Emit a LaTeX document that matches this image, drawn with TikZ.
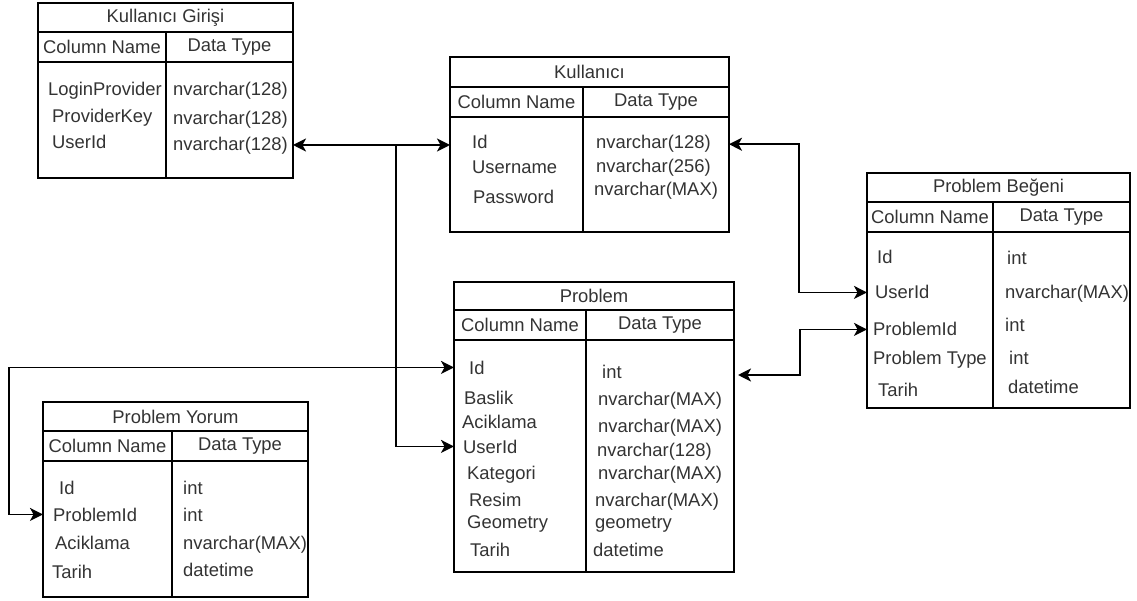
\documentclass[tikz,border=0pt]{standalone}
\usepackage{fontspec}
\setmainfont{Liberation Sans}
\usetikzlibrary{arrows.meta}

\begin{document}
\begin{tikzpicture}[x=1pt,y=-1pt,font=\fontsize{18.4pt}{22pt}\selectfont]
    \tikzset{line/.style={draw,line width=2pt}}
    \tikzset{link/.style={draw,line width=1.8pt,>={Stealth[length=13pt,width=13pt,inset=3.5pt]}}}
    \tikzset{cell/.style={line,inner sep=0pt,outer sep=0pt,anchor=north west,minimum height=30pt,text=black!80}}
    \tikzset{fld/.style={inner sep=0pt,anchor=base west,text=black!80}}

    \useasboundingbox (0,0) rectangle (1137,601);

    % Kullanici Girisi
    \node[cell,minimum width=255pt,minimum height=29pt] (giT) at (38,3) {Kullanıcı Girişi};
    \node[cell,minimum width=128pt] (giC) at (38,32) {Column Name};
    \node[cell,minimum width=127pt] (giD) at (166,32) {Data Type};
    \node[cell,minimum width=128pt,minimum height=116pt] (giris) at (38,62) {};
    \node[cell,minimum width=127pt,minimum height=116pt] (girisR) at (166,62) {};
    \node[fld] (giLog) at (48,96) {LoginProvider};
    \node[fld] (giKey) at (52,123) {ProviderKey};
    \node[fld] (giUid) at (52,149) {UserId};
    \node[fld] (giLogT) at (173,96) {nvarchar(128)};
    \node[fld] (giKeyT) at (173,125) {nvarchar(128)};
    \node[fld] (giUidT) at (173,151) {nvarchar(128)};

    % Kullanici
    \node[cell,minimum width=279pt] (kuT) at (450,57) {Kullanıcı};
    \node[cell,minimum width=133pt] (kuC) at (450,87) {Column Name};
    \node[cell,minimum width=146pt] (kuD) at (583,87) {Data Type};
    \node[cell,minimum width=133pt,minimum height=115pt] (kul) at (450,117) {};
    \node[cell,minimum width=146pt,minimum height=115pt] (kulR) at (583,117) {};
    \node[fld] (kuId) at (472,149) {Id};
    \node[fld] (kuName) at (472,174) {Username};
    \node[fld] (kuPass) at (473,204) {Password};
    \node[fld] (kuIdT) at (596,149) {nvarchar(128)};
    \node[fld] (kuNameT) at (596,173) {nvarchar(256)};
    \node[fld] (kuPassT) at (594,196) {nvarchar(MAX)};

    % Problem Begeni
    \node[cell,minimum width=263pt,minimum height=29pt] (beT) at (867,173) {Problem Beğeni};
    \node[cell,minimum width=126pt] (beC) at (867,202) {Column Name};
    \node[cell,minimum width=137pt] (beD) at (993,202) {Data Type};
    \node[cell,minimum width=126pt,minimum height=176pt] (begeni) at (867,232) {};
    \node[cell,minimum width=137pt,minimum height=176pt] (begeniR) at (993,232) {};
    \node[fld] (beId) at (877,264) {Id};
    \node[fld] (beUid) at (875,299) {UserId};
    \node[fld] (bePid) at (873,336) {ProblemId};
    \node[fld] (beType) at (873,364) {Problem Type};
    \node[fld] (beDate) at (878,396) {Tarih};
    \node[fld] (beIdT) at (1007,265) {int};
    \node[fld] (beUidT) at (1005,299) {nvarchar(MAX)};
    \node[fld] (bePidT) at (1005,332) {int};
    \node[fld] (beTypeT) at (1009,364) {int};
    \node[fld] (beDateT) at (1008,393) {datetime};

    % Problem
    \node[cell,minimum width=280pt,minimum height=28pt] (prT) at (454,282) {Problem};
    \node[cell,minimum width=132pt] (prC) at (454,310) {Column Name};
    \node[cell,minimum width=148pt] (prD) at (586,310) {Data Type};
    \node[cell,minimum width=132pt,minimum height=232pt] (prob) at (454,340) {};
    \node[cell,minimum width=148pt,minimum height=232pt] (probR) at (586,340) {};
    \node[fld] (prId) at (469,374) {Id};
    \node[fld] (prTitle) at (464,404) {Baslik};
    \node[fld] (prDesc) at (462,428) {Aciklama};
    \node[fld] (prUid) at (463,453) {UserId};
    \node[fld] (prCat) at (467,479) {Kategori};
    \node[fld] (prImg) at (469,506) {Resim};
    \node[fld] (prGeo) at (467,528) {Geometry};
    \node[fld] (prDate) at (470,556) {Tarih};
    \node[fld] (prIdT) at (602,378) {int};
    \node[fld] (prTitleT) at (598,405) {nvarchar(MAX)};
    \node[fld] (prDescT) at (598,432) {nvarchar(MAX)};
    \node[fld] (prUidT) at (597,456) {nvarchar(128)};
    \node[fld] (prCatT) at (598,479) {nvarchar(MAX)};
    \node[fld] (prImgT) at (595,506) {nvarchar(MAX)};
    \node[fld] (prGeoT) at (595,528) {geometry};
    \node[fld] (prDateT) at (593,556) {datetime};

    % Problem Yorum
    \node[cell,minimum width=265pt,minimum height=29pt] (yoT) at (43,402) {Problem Yorum};
    \node[cell,minimum width=129pt] (yoC) at (43,431) {Column Name};
    \node[cell,minimum width=136pt] (yoD) at (172,431) {Data Type};
    \node[cell,minimum width=129pt,minimum height=136pt] (yorum) at (43,461) {};
    \node[cell,minimum width=136pt,minimum height=136pt] (yorumR) at (172,461) {};
    \node[fld] (yoId) at (59,494) {Id};
    \node[fld] (yoPid) at (53,521) {ProblemId};
    \node[fld] (yoDesc) at (55,549) {Aciklama};
    \node[fld] (yoDate) at (52,578) {Tarih};
    \node[fld] (yoIdT) at (183,494) {int};
    \node[fld] (yoPidT) at (183,521) {int};
    \node[fld] (yoDescT) at (183,549) {nvarchar(MAX)};
    \node[fld] (yoDateT) at (183,576) {datetime};

    % relations
    \coordinate (j1) at (396,145);
    \coordinate (j2) at (799,0);
    \coordinate (j3) at (800,375);
    \coordinate (j4) at (9,0);

    \path[link,<->] (girisR.east |- j1) -- (kul.west |- j1);
    \path[link,->] (j1) |- (prob.west |- prUid);
    \path[link,<->] (kulR.east |- kuIdT) -| (j2 |- beUid) -- (begeni.west |- beUid);
    \path[link,<->] ([xshift=4pt]probR.east |- j3) -- (j3) |- (begeni.west |- bePid);
    \path[link,<->] (prob.west |- prId) -| (j4 |- yoPid) -- (yorum.west |- yoPid);
\end{tikzpicture}
\end{document}
